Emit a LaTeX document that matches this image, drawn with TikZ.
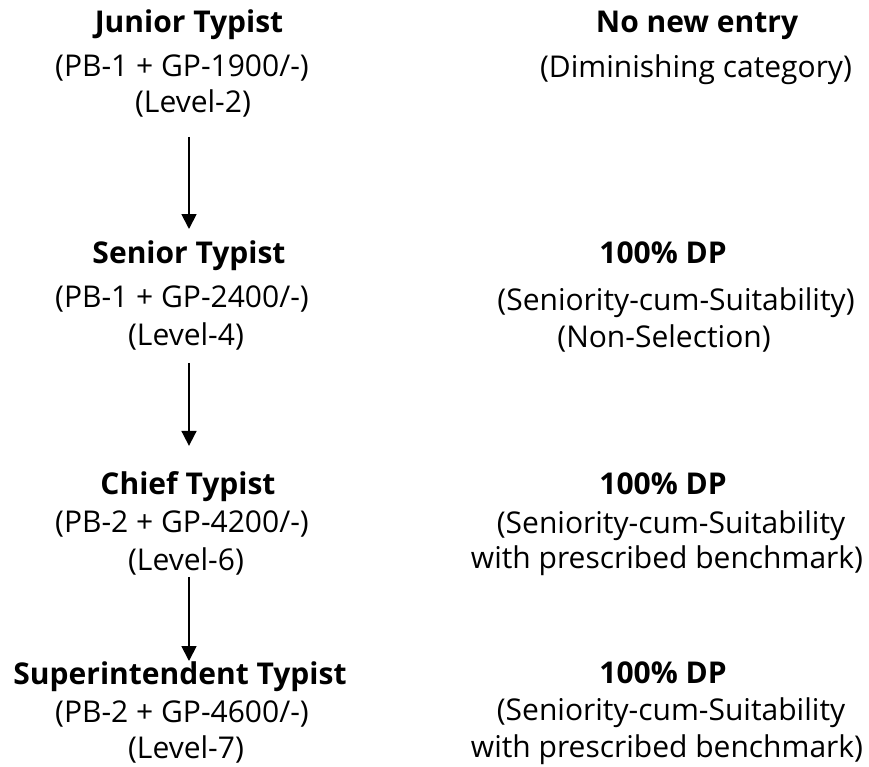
\documentclass[tikz,border=0pt]{standalone}
\usepackage{fontspec}
\setmainfont{Open Sans}
\usetikzlibrary{arrows.meta}
\tikzset{
  titolo/.style={anchor=base, inner sep=0pt, font=\fontsize{30}{36}\selectfont\bfseries},
  riga/.style={anchor=base, inner sep=0pt, font=\fontsize{30}{36}\selectfont},
  freccia/.style={-{Triangle[length=15pt,width=15pt]}, line width=1.8pt}
}
\begin{document}
\begin{tikzpicture}[x=1pt,y=-1pt]
        \useasboundingbox (0,0) rectangle (869,767);
        % Colonna a sinistra: i posti
        \node[titolo] (junior) at (189, 33) {Junior Typist};
        \node[riga] (pba) at (182, 77) {(PB-1 + GP-1900/-)};
        \node[riga] (lvla) at (193, 113) {(Level-2)};
        \node[titolo] (senior) at (189, 263) {Senior Typist};
        \node[riga] (pbb) at (182, 307) {(PB-1 + GP-2400/-)};
        \node[riga] (lvlb) at (186, 345) {(Level-4)};
        \node[titolo] (chief) at (188, 494) {Chief Typist};
        \node[riga] (pbc) at (182, 532) {(PB-2 + GP-4200/-)};
        \node[riga] (lvlc) at (186, 570) {(Level-6)};
        \node[titolo] (supt) at (180, 684) {Superintendent Typist};
        \node[riga] (pbd) at (182, 722) {(PB-2 + GP-4600/-)};
        \node[riga] (lvld) at (186, 758) {(Level-7)};
        % Frecce di promozione
        \draw[freccia, shorten <=19pt, shorten >=11pt] (junior |- lvla.south) -- (junior |- senior.north);
        \draw[freccia, shorten <=13pt, shorten >=25pt] (junior |- lvlb.south) -- (junior |- chief.north);
        \draw[freccia, shorten <=2pt, shorten >=0pt] (junior |- lvlc.south) -- (junior |- supt.north);
        % Colonna a destra: modo di reclutamento
        \node[titolo] (nuovo) at (697, 33) {No new entry};
        \node[riga] (dimin) at (696, 78) {(Diminishing category)};
        \node[titolo] (dpb) at (663, 263) {100\% DP};
        \node[riga] (senb) at (676, 310) {(Seniority-cum-Suitability)};
        \node[riga] (nonsel) at (664, 347) {(Non-Selection)};
        \node[titolo] (dpc) at (663, 494) {100\% DP};
        \node[riga] (senc) at (671, 533) {(Seniority-cum-Suitability};
        \node[riga] (benchc) at (667, 568) {with prescribed benchmark)};
        \node[titolo] (dpd) at (663, 683) {100\% DP};
        \node[riga] (send) at (671, 720) {(Seniority-cum-Suitability};
        \node[riga] (benchd) at (667, 757) {with prescribed benchmark)};
    \end{tikzpicture}
\end{document}
